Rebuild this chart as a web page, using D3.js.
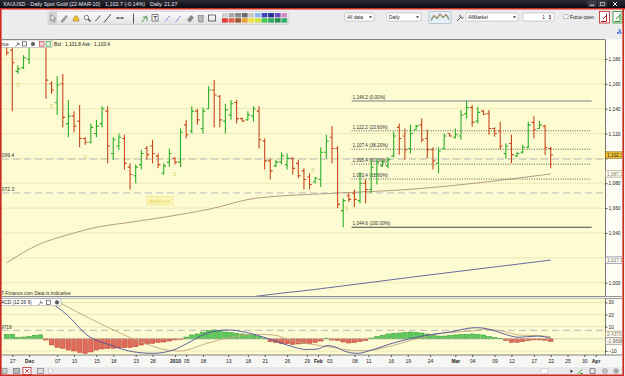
<!DOCTYPE html>
<html>
<head>
<meta charset="utf-8">
<script src="https://cdn.jsdelivr.net/npm/d3@7"></script>
<style>
body { margin: 0; background: #ececec; }
svg { display: block; font-family: "Liberation Sans", Arial, sans-serif; }
</style>
</head>
<body>
<div id="chart"></div>
<script>
// ---- data (bar index 0 = 26 Nov 2009, 97 = last bar) ----
var opens  = [1190,1187,1170,1173,1180,1198,1208,1215,1160,1145,1160,1128,1134,1130,1116,1113,1120,1128,1138,1104,
              1110,1116,1093,1086,1095,1108,1110,1102,1088,1097,1100,1097,1127,1122,1138,1124,1140,1155,1150,1130,
              1135,1145,1132,1131,1134,1138,1114,1098,1094,1097,1095,1100,1096,1090,1085,1081,1083,1105,1117,1108,
              1058,1070,1072,1066,1080,1075,1087,1094,1094,1102,1125,1118,1108,1123,1127,1116,1107,1096,1108,1120,
              1117,1118,1136,1141,1130,1138,1136,1124,1122,1104,1112,1102,1105,1109,1129,1124,1126,1108];
var highs  = [1193,1190,1175,1183,1193,1212,1227,1226,1162,1166,1168,1147,1138,1143,1117,1128,1131,1142,1142,1117,
              1120,1119,1096,1095,1107,1110,1115,1104,1096,1108,1101,1124,1131,1142,1140,1141,1158,1163,1151,1144,
              1147,1147,1133,1138,1142,1142,1116,1100,1099,1105,1104,1101,1099,1092,1088,1085,1109,1119,1126,1110,
              1068,1072,1075,1089,1083,1099,1100,1099,1101,1121.5,1128,1124,1127,1127,1132,1123,1109,1109,1120,1120,
              1124,1139,1146.2,1143,1141.6,1139,1139,1125,1129.5,1112,1119,1105.4,1111,1129.5,1134,1130,1127,1109.4];
var lows   = [1183,1138,1168,1172,1176,1196,1203,1148,1152,1135,1125,1117,1121,1109,1111,1112,1117,1125,1096,1099,
              1107,1091,1075,1080,1091,1099,1096,1092,1087,1093,1095,1093,1116,1120,1127,1120,1140,1125,1125,1120,
              1131,1128,1129.5,1131,1129.5,1108,1091,1083,1093,1095,1091,1087,1084,1075,1075,1080,1077,1100,1096,1060,
              1044.6,1065,1061,1064,1064,1072,1079,1093,1092,1101,1103,1099,1104,1123,1113,1100,1091,1088,1107,1117.5,
              1116,1115,1132,1125.5,1128,1135,1119,1117.5,1107,1100,1096,1101.4,1104,1108,1116,1124,1102.7,1092];
var closes = [1185,1177,1172,1181,1191,1208,1215,1163,1155,1159,1133,1134,1126,1116,1113,1125,1126,1140,1110,1115,
              1117,1096,1087,1093,1104,1103,1104,1095,1094,1104,1097,1121,1119,1138,1131,1138,1155,1151,1131,1139,
              1144,1132,1130,1135,1140,1115,1098,1090,1097,1102,1100,1092,1086,1083,1079,1084,1105,1114,1108,1063,
              1066,1067,1067,1080,1075,1093,1097,1097,1099,1118,1116,1107,1120,1126,1115,1107,1098,1106,1118,1118,
              1119,1135,1141,1129,1137,1135.5,1124,1120,1110,1110,1103,1104,1109,1127,1123,1127,1109,1102.7];

// moving averages, read at a few bar indices [index, price]
var maTan  = [[0,1016],[5.9,1031.1],[10.8,1038.4],[16.6,1045.1],[21.5,1048.3],[28.6,1053.1],[36.3,1059.3],
              [44.3,1067.9],[58.2,1071.9],[71.9,1075.1],[97,1087.5]];
var maBlue = [[40,986],[44.8,989.3],[54.1,994.1],[71.9,1004.3],[97,1018.2]];

// MACD (12 26 9)
var macdHist = [3.5,3.8,1.2,1.5,2.0,3.0,3.3,-1.0,-5.0,-7.0,-7.8,-9.2,-10.0,-11.2,-11.9,-10.8,-9.2,-8.3,-7.8,-7.8,
                -7.5,-7.3,-7.1,-6.5,-5.1,-4.2,-3.7,-3.0,-2.6,-1.8,-0.9,-0.4,1.5,3.2,4.0,5.6,6.9,7.3,6.5,5.6,
                5.2,4.6,4.0,3.6,3.2,1.9,0.3,-2.3,-3.0,-3.7,-4.0,-4.5,-4.2,-3.7,-4.0,-3.0,-1.8,0.6,-1.0,-1.4,
                -2.6,-3.4,-3.0,-2.2,-1.4,0.7,1.8,2.8,4.0,4.6,4.8,5.2,5.6,5.4,4.8,4.0,2.9,2.3,2.3,2.8,
                3.2,3.6,3.7,4.0,3.6,3.2,1.9,1.1,0.3,-1.4,-2.8,-2.8,-2.2,-1.4,-0.9,-0.9,-1.2,-2.2];
var macdLine = [[0,44],[3,40],[6.5,33.3],[10.8,19.6],[14.3,3.2],[18.4,-5],[22.5,-10.6],[26.1,-11.9],[29.7,-9.2],
                [32.2,-3.7],[35.7,4.6],[39.3,7.3],[43.9,4],[46.4,0.5],[50,-5.1],[53.5,-8.8],[55.3,-8.5],[57.3,-5.5],
                [58.5,-6.5],[60.3,-10.2],[62.6,-11.9],[65.1,-9.2],[68.7,-3.7],[72.3,0.5],[75.8,3.7],[79.4,5.9],
                [82.3,8.7],[84,9.2],[86.5,7.3],[88.9,3.7],[91.2,1.3],[94.7,2.3],[97,0.5]];
var signalLine = [[0,46],[5,38],[9,30.6],[13.6,19.6],[18.4,8.7],[23.8,-2.3],[28.6,-9.2],[30.9,-10],[35.7,-3.7],
                  [40.4,1.8],[45.2,3.7],[47.5,3.2],[51.1,-1.8],[55.3,-5.1],[59,-7.8],[60.9,-9.2],[63.9,-9.8],
                  [68,-6.5],[72.3,-0.9],[75.8,3.2],[79.4,5.4],[83,6.5],[85.3,7.9],[88.9,5.9],[91.2,3.2],
                  [94.7,2.6],[97,1.8]];
var macdLevel = 6.9719;

// Fibonacci retracement
var fibLevels = [1146.2, 1122.2, 1107.4, 1095.4, 1083.4, 1044.6];
var fibLabels = ["1,146.2 (0.00%)","1,122.2 (23.60%)","1,107.4 (38.20%)","1,095.4 (50.00%)","1,083.4 (61.80%)","1,044.6 (100.00%)"];
var fibFrom = 61.5, fibTo = 104.3;

// horizontal dashed levels
var levels = [1099.4, 1072.3];
var levelLabels = ["1,099.4", "1,072.3"];

// small wave marks "5"
var markIdx   = [2, 8, 14, 30, 54.6, 60.6];
var markPrice = [1159, 1142.4, 1101.4, 1087.4, 1090.7, 1059.9];

// date axis
var tickIdx = [1,4,9,12,16,19,23,26,30,32,35,39.5,43,46,50,53.5,55.5,57.5,62,64.5,68.5,71.5,75.5,80,83,87,90,94,97,100,103,105];
var tickLabels = ["27","Dec","07","10","15","18","23","28","2010","05","08","13","18","21","26","29","Feb","03",
                  "08","11","16","19","24","Mar","04","09","12","17","22","25","30","Apr"];
var boldLabels = ["Dec","2010","Feb","Mar","Apr"];

var priceTicks = [1000,1020,1040,1060,1080,1100,1120,1140,1160,1180];
var hiddenTicks = [1020,1100];   // covered by the value boxes
var macdTicks = [-10,10,20,30];

// ---- layout ----
var W = 625, H = 376;
var L = 2, R = 605, mainT = 39.5, mainB = 296, macdT = 298.5, macdB = 355;

var x  = d3.scaleLinear().domain([0, 97]).range([6.7, 550.7]);
var y  = d3.scaleLinear().domain([1000, 1180]).range([282.7, 58.96]);
var ym = d3.scaleLinear().domain([-10, 30]).range([351, 302.4]);

var svg = d3.select("#chart").append("svg").attr("width", W).attr("height", H);
var defs = svg.append("defs");

var tg = defs.append("linearGradient").attr("id", "tbar").attr("x1", 0).attr("x2", 0).attr("y1", 0).attr("y2", 1);
tg.append("stop").attr("offset", 0).attr("stop-color", "#2a2a36");
tg.append("stop").attr("offset", 1).attr("stop-color", "#0a0a10");
var bg = defs.append("linearGradient").attr("id", "tbox").attr("x1", 0).attr("x2", 0).attr("y1", 0).attr("y2", 1);
bg.append("stop").attr("offset", 0).attr("stop-color", "#fbfbfb");
bg.append("stop").attr("offset", 1).attr("stop-color", "#e2e2e2");

defs.append("clipPath").attr("id", "cMain").append("rect")
  .attr("x", L).attr("y", mainT).attr("width", R - L).attr("height", mainB - mainT);
defs.append("clipPath").attr("id", "cMacd").append("rect")
  .attr("x", L).attr("y", macdT).attr("width", R - L).attr("height", macdB - macdT);
defs.append("clipPath").attr("id", "cWin").append("rect")
  .attr("x", 0).attr("y", 0).attr("width", 622).attr("height", H);

svg.append("rect").attr("width", W).attr("height", H).attr("fill", "#ececec");

// title bar
svg.append("rect").attr("width", W).attr("height", 8.5).attr("fill", "url(#tbar)");
var tt = svg.append("g").attr("fill", "#e8e8f0").attr("font-size", 5.4);
tt.append("text").attr("x", 3).attr("y", 6.3).text("XAUUSD - Daily Spot Gold (22-MAR-10)");
tt.append("text").attr("x", 105).attr("y", 6.3).text("1,102.7 (-0.14%)");
tt.append("text").attr("x", 150).attr("y", 6.3).text("Daily");
tt.append("text").attr("x", 164).attr("y", 6.3).text("21:27");
// window buttons
[588, 598.5].forEach(function(bx) {
  svg.append("rect").attr("x", bx).attr("y", 1).attr("width", 8).attr("height", 5.5).attr("fill", "#3a3a48").attr("stroke", "#555").attr("stroke-width", 0.5);
});
svg.append("path").attr("d", "M590,5.2H594").attr("stroke", "#ddd").attr("stroke-width", 1);
svg.append("rect").attr("x", 600.5).attr("y", 2.3).attr("width", 4).attr("height", 3).attr("fill", "none").attr("stroke", "#ddd").attr("stroke-width", 0.6);
svg.append("path").attr("d", "M613,2L617,6M617,2L613,6").attr("stroke", "#f0f0f0").attr("stroke-width", 1);

// ---- toolbar ----
var tb = svg.append("g");
tb.append("rect").attr("x", 48).attr("y", 11.5).attr("width", 241).attr("height", 13).attr("rx", 1.5)
  .attr("fill", "url(#tbox)").attr("stroke", "#c6c6c6").attr("stroke-width", 0.6);
tb.append("rect").attr("x", 48.5).attr("y", 12).attr("width", 8.5).attr("height", 12).attr("fill", "#d4d4d4");
tb.append("path").attr("d", "M51,14.5L51,21L52.6,19.4L54,22L55,21.4L53.7,18.9L55.6,18.7Z").attr("fill", "#fff").attr("stroke", "#333").attr("stroke-width", 0.5);
tb.append("path").attr("d", "M61,21.5L66,15.5L67.3,16.7L62.3,22.5Z").attr("fill", "#aaa").attr("stroke", "#555").attr("stroke-width", 0.5);
tb.append("path").attr("d", "M73,21L74,17.5Q76,14 78,17.5L79,21Z").attr("fill", "#f2c12e").attr("stroke", "#8a6a10").attr("stroke-width", 0.5);
tb.append("circle").attr("cx", 86.5).attr("cy", 17.5).attr("r", 2.2).attr("fill", "#fff").attr("stroke", "#444").attr("stroke-width", 0.7);
tb.append("path").attr("d", "M88,19L90.5,21.5").attr("stroke", "#444").attr("stroke-width", 1.2);
tb.append("path").attr("d", "M95.5,21L100.5,15.5").attr("stroke", "#333").attr("stroke-width", 0.9);
tb.append("path").attr("d", "M104,22.5L111,14").attr("stroke", "#333").attr("stroke-width", 0.9);
tb.append("path").attr("d", "M116,18H124M118,17V19M122,17V19").attr("stroke", "#333").attr("stroke-width", 0.8);
tb.append("path").attr("d", "M133.5,13.5V23.5").attr("stroke", "#333").attr("stroke-width", 0.8);
tb.append("path").attr("d", "M142,22L147,15.5M143,17H147V21").attr("stroke", "#2a8a2a").attr("stroke-width", 0.8).attr("fill", "none");
tb.append("rect").attr("x", 152).attr("y", 14.5).attr("width", 6).attr("height", 6.5).attr("fill", "#fff").attr("stroke", "#333").attr("stroke-width", 0.6);
tb.append("text").attr("x", 153.4).attr("y", 20).attr("font-size", 5.5).attr("font-weight", "bold").attr("fill", "#333").text("T");
tb.append("path").attr("d", "M165,21.5L170,15.5").attr("stroke", "#3a4ac8").attr("stroke-width", 0.9).attr("stroke-dasharray", "1.2,0.8");
tb.append("path").attr("d", "M176,21.5L181,15.5").attr("stroke", "#3a4ac8").attr("stroke-width", 0.9).attr("stroke-dasharray", "1.2,0.8");
tb.append("path").attr("d", "M187.5,20L191,15.5L193.5,17.5L190,22Z").attr("fill", "#888").attr("stroke", "#444").attr("stroke-width", 0.4);
tb.append("path").attr("d", "M198,15.5H203.5L202.8,22H198.7Z").attr("fill", "#bbb").attr("stroke", "#555").attr("stroke-width", 0.5);
tb.append("rect").attr("x", 208.5).attr("y", 15).attr("width", 7).attr("height", 6).attr("fill", "none").attr("stroke", "#333").attr("stroke-width", 0.7);
var palTop = ["#cfcfcf","#a9a9a9","#8a8a8a","#6a6a6a","#c9c9c9","#8fb6f0","#3e46b8","#2a2f96","#6a4cc2","#d08ac8"];
var palBot = ["#e03c3c","#e8604a","#9c5a32","#f0a030","#f4e040","#d0e83c","#48c848","#2fa860","#2a8a4a","#2cb070"];
palTop.forEach(function(c, i) {
  tb.append("rect").attr("x", 222 + i * 6.6).attr("y", 13).attr("width", 5.8).attr("height", 4.4).attr("fill", c);
});
palBot.forEach(function(c, i) {
  tb.append("rect").attr("x", 222 + i * 6.6).attr("y", 18.2).attr("width", 5.8).attr("height", 4.4).attr("fill", c);
});

function dropdown(x0, w, label) {
  tb.append("rect").attr("x", x0).attr("y", 13).attr("width", w).attr("height", 8).attr("rx", 1)
    .attr("fill", "#fff").attr("stroke", "#b4b4b4").attr("stroke-width", 0.6);
  tb.append("text").attr("x", x0 + 2).attr("y", 19).attr("font-size", 4.8).attr("fill", "#222").text(label);
  tb.append("path").attr("d", "M" + (x0 + w - 5) + ",16.2h3l-1.5,2z").attr("fill", "#333");
}
dropdown(345, 29, "All data");
dropdown(387, 34, "Daily");
dropdown(466, 52, "AllMarket");
tb.append("rect").attr("x", 429).attr("y", 11.5).attr("width", 22).attr("height", 12).attr("rx", 1)
  .attr("fill", "#e6eef8").attr("stroke", "#9ab").attr("stroke-width", 0.6);
tb.append("path").attr("d", "M431,21L434,16L437,19L440,14.5L443,18L446,15L449,20").attr("fill", "none").attr("stroke", "#3a9a3a").attr("stroke-width", 0.8);
tb.append("path").attr("d", "M431,19L434,15L437,18L440,13.5L443,17L446,14L449,18").attr("fill", "none").attr("stroke", "#d04030").attr("stroke-width", 0.6);
tb.append("path").attr("d", "M457,21L461.5,16.5M460.5,14.5A2,2 0 1 0 463.5,17.5").attr("fill", "none").attr("stroke", "#555").attr("stroke-width", 0.9);
tb.append("rect").attr("x", 523).attr("y", 13).attr("width", 31).attr("height", 8).attr("rx", 1)
  .attr("fill", "#fff").attr("stroke", "#b4b4b4").attr("stroke-width", 0.6);
tb.append("text").attr("x", 545).attr("y", 19).attr("font-size", 4.8).attr("text-anchor", "end").attr("fill", "#222").text("1");
tb.append("path").attr("d", "M548.5,16.5h3l-1.5,-1.8zM548.5,17.7h3l-1.5,1.8z").attr("fill", "#333");
tb.append("rect").attr("x", 564).attr("y", 14.8).attr("width", 4).attr("height", 4).attr("fill", "#fff").attr("stroke", "#888").attr("stroke-width", 0.5);
tb.append("text").attr("x", 570).attr("y", 18.8).attr("font-size", 4.8).attr("fill", "#222").text("Force open");
tb.append("rect").attr("x", 599.5).attr("y", 11.5).attr("width", 10).attr("height", 11.5).attr("fill", "#fff").attr("stroke", "#c02020").attr("stroke-width", 0.8);
tb.append("path").attr("d", "M601,21.5H606.5V13.5M603,19L606.5,15.5").attr("fill", "none").attr("stroke", "#c02020").attr("stroke-width", 1);
tb.append("rect").attr("x", 613).attr("y", 11.5).attr("width", 9).attr("height", 11.5).attr("fill", "#fff").attr("stroke", "#2a8a2a").attr("stroke-width", 0.8);
tb.append("path").attr("d", "M614.5,21.5H620V13.5M616,19L620,15").attr("fill", "none").attr("stroke", "#2a8a2a").attr("stroke-width", 1);
tb.append("path").attr("d", "M617,33L621,30.5M621,30.5L618.5,29.5M617,33H622").attr("fill", "none").attr("stroke", "#2a5ad0").attr("stroke-width", 1);

// ---- main price panel ----
svg.append("rect").attr("x", L).attr("y", mainT).attr("width", R - L).attr("height", mainB - mainT).attr("fill", "#fcfbd1");
svg.append("rect").attr("x", R).attr("y", mainT).attr("width", 17).attr("height", macdB - mainT).attr("fill", "#fdfdf6");
svg.append("path").attr("d", "M" + L + "," + mainT + "H" + R).attr("stroke", "#666").attr("stroke-width", 0.8);

var gm = svg.append("g").attr("clip-path", "url(#cMain)");

gm.selectAll("line.grid").data(priceTicks).enter().append("line")
  .attr("x1", L).attr("x2", R).attr("y1", function(d) { return y(d); }).attr("y2", function(d) { return y(d); })
  .attr("stroke", "#ece8b6").attr("stroke-width", 1);

gm.selectAll("line.lvl").data(levels).enter().append("line")
  .attr("x1", L).attr("x2", R).attr("y1", function(d) { return y(d); }).attr("y2", function(d) { return y(d); })
  .attr("stroke", "#c9c9c2").attr("stroke-width", 1.2).attr("stroke-dasharray", "7,4");
gm.selectAll("text.lvl").data(levels).enter().append("text")
  .attr("x", -2.5).attr("y", function(d) { return y(d) - 1.8; })
  .attr("font-size", 5).attr("fill", "#333").text(function(d, i) { return levelLabels[i]; });

// moving averages
var maLine = d3.line().x(function(d) { return x(d[0]); }).y(function(d) { return y(d[1]); }).curve(d3.curveMonotoneX);
gm.append("path").attr("d", maLine(maTan)).attr("fill", "none").attr("stroke", "#b39e82").attr("stroke-width", 1);
gm.append("path").attr("d", maLine(maBlue)).attr("fill", "none").attr("stroke", "#6a6c9e").attr("stroke-width", 1);

// fibonacci
gm.selectAll("line.fib").data(fibLevels).enter().append("line")
  .attr("x1", x(fibFrom)).attr("x2", x(fibTo))
  .attr("y1", function(d) { return y(d); }).attr("y2", function(d) { return y(d); })
  .attr("stroke", function(d, i) { return i == 0 ? "#aaa9a0" : (i == fibLevels.length - 1 ? "#4a4a4a" : "#333"); })
  .attr("stroke-width", function(d, i) { return i == 0 ? 1.6 : (i == fibLevels.length - 1 ? 1 : 0.8); })
  .attr("stroke-dasharray", function(d, i) { return (i == 0 || i == fibLevels.length - 1) ? null : "1,1.4"; });
gm.selectAll("text.fib").data(fibLevels).enter().append("text")
  .attr("x", x(fibFrom) + 1).attr("y", function(d) { return y(d) - 1.8; })
  .attr("font-size", 4.6).attr("fill", "#333").text(function(d, i) { return fibLabels[i]; });

// wave marks
gm.selectAll("text.mark").data(markIdx).enter().append("text")
  .attr("x", function(d) { return x(d); }).attr("y", function(d, i) { return y(markPrice[i]) + 2; })
  .attr("font-size", 5).attr("text-anchor", "middle").attr("fill", "#e2c76a").text("5");

// note box
gm.append("rect").attr("x", 147).attr("y", 196.5).attr("width", 26).attr("height", 8.5)
  .attr("fill", "#fbf7b8").attr("stroke", "#f0e27a").attr("stroke-width", 0.6);
gm.append("text").attr("x", 160).attr("y", 202.6).attr("font-size", 4.5).attr("text-anchor", "middle").attr("fill", "#e3cf55").text("double pin");

// OHLC bars
var bars = opens.map(function(o, i) { return { i: i, o: o, h: highs[i], l: lows[i], c: closes[i] }; });
gm.selectAll("path.bar").data(bars).enter().append("path")
  .attr("d", function(d) {
    var cx = x(d.i);
    return "M" + cx + "," + y(d.h) + "V" + y(d.l) +
           "M" + (cx - 2.3) + "," + y(d.o) + "H" + cx +
           "M" + cx + "," + y(d.c) + "H" + (cx + 2.3);
  })
  .attr("fill", "none").attr("stroke-width", 1.1)
  .attr("stroke", function(d) { return d.c >= d.o ? "#2aae2a" : "#c7461d"; });

svg.append("text").attr("x", 0).attr("y", 295).attr("font-size", 4.8).attr("fill", "#333")
  .attr("clip-path", "url(#cMain)").text("IT-Finance.com  Data is indicative");

// price legend box
svg.append("rect").attr("x", -1).attr("y", 40).attr("width", 53).attr("height", 7.5).attr("fill", "#fff").attr("stroke", "#999").attr("stroke-width", 0.5);
svg.append("text").attr("x", 1).attr("y", 45.6).attr("font-size", 4.8).attr("fill", "#222").text("rice");
svg.append("path").attr("d", "M15.5,46.5L18.5,43.5M18,42A1.4,1.4 0 1 0 20,44").attr("fill", "none").attr("stroke", "#444").attr("stroke-width", 0.7);
svg.append("rect").attr("x", 22.5).attr("y", 41.8).attr("width", 4).attr("height", 4.2).attr("fill", "#fff").attr("stroke", "#333").attr("stroke-width", 0.6);
svg.append("circle").attr("cx", 33).attr("cy", 44).attr("r", 1.8).attr("fill", "#666").attr("stroke", "#333").attr("stroke-width", 0.5);
svg.append("rect").attr("x", 39.5).attr("y", 41.6).attr("width", 4.5).attr("height", 4.6).attr("fill", "#f4d0d0").attr("stroke", "#c03030").attr("stroke-width", 0.6);
svg.append("rect").attr("x", 46).attr("y", 41.6).attr("width", 4.5).attr("height", 4.6).attr("fill", "#d6f0d6").attr("stroke", "#2a9a2a").attr("stroke-width", 0.6);
svg.append("text").attr("x", 54).attr("y", 45.8).attr("font-size", 4.8).attr("fill", "#222").text("Bid : 1,101.8  Ask : 1,103.4");

// right price axis
var ay = d3.axisRight(y).tickValues(priceTicks).tickSize(2.5)
  .tickFormat(function(d) { return hiddenTicks.indexOf(d) >= 0 ? "" : d3.format(",")(d); });
var gAx = svg.append("g").attr("transform", "translate(" + R + ",0)").call(ay);
gAx.select(".domain").attr("stroke", "#555").attr("stroke-width", 0.8).attr("d", "M0.5," + mainT + "V" + mainB);
gAx.selectAll("line").attr("stroke", "#555");
gAx.selectAll("text").attr("x", 3.5).attr("font-size", 4.8).attr("fill", "#222").attr("font-family", "Liberation Sans, Arial, sans-serif");
var minor = d3.range(1010, 1195, 20);
svg.selectAll("line.minor").data(minor).enter().append("line")
  .attr("x1", R).attr("x2", R + 1.5).attr("y1", function(d) { return y(d); }).attr("y2", function(d) { return y(d); })
  .attr("stroke", "#777").attr("stroke-width", 0.6);

// value boxes on the price axis
function valueBox(v, label, fill, stroke, color, yScale) {
  var yy = yScale(v);
  var g = svg.append("g").attr("clip-path", "url(#cWin)");
  g.append("rect").attr("x", R + 0.5).attr("y", yy - 3.2).attr("width", 18).attr("height", 6.4)
    .attr("fill", fill).attr("stroke", stroke).attr("stroke-width", 0.7);
  g.append("text").attr("x", R + 2).attr("y", yy + 1.8).attr("font-size", 4.8).attr("fill", color).text(label);
}
valueBox(1102.7, "1,102.7", "#f3c535", "#8a6a12", "#222", y);
valueBox(1087.5, "1,087.3", "#fffef6", "#a8987a", "#8a7a5a", y);
valueBox(1018.2, "1,017.9", "#fffef6", "#7a7a9a", "#666", y);

// panel separator
svg.append("path").attr("d", "M" + L + ",296.5H" + (R + 17) + "M" + L + ",298.5H" + (R + 17)).attr("stroke", "#666").attr("stroke-width", 0.7);

// ---- MACD panel ----
svg.append("rect").attr("x", L).attr("y", macdT).attr("width", R - L).attr("height", macdB - macdT).attr("fill", "#fcfbd1");
var gd = svg.append("g").attr("clip-path", "url(#cMacd)");
gd.selectAll("line.mgrid").data([30, 20, 10, -10]).enter().append("line")
  .attr("x1", L).attr("x2", R).attr("y1", function(d) { return ym(d); }).attr("y2", function(d) { return ym(d); })
  .attr("stroke", "#ece8b6").attr("stroke-width", 1);
gd.append("line").attr("x1", L).attr("x2", R).attr("y1", ym(macdLevel)).attr("y2", ym(macdLevel))
  .attr("stroke", "#c6c6c0").attr("stroke-width", 1.1).attr("stroke-dasharray", "7,4");
gd.append("text").attr("x", -3).attr("y", ym(macdLevel) - 1.8).attr("font-size", 4.8).attr("fill", "#333").text(d3.format(".4f")(macdLevel));

gd.selectAll("rect.hist").data(macdHist).enter().append("rect")
  .attr("x", function(d, i) { return x(i) - 2.3; }).attr("width", 4.6)
  .attr("y", function(d) { return Math.min(ym(d), ym(0)); })
  .attr("height", function(d) { return Math.abs(ym(d) - ym(0)); })
  .attr("fill", function(d) { return d >= 0 ? "#5cc95c" : "#e26a5a"; })
  .attr("stroke", function(d) { return d >= 0 ? "#2f9a2f" : "#b5402e"; }).attr("stroke-width", 0.5);
gd.append("line").attr("x1", L).attr("x2", R).attr("y1", ym(0)).attr("y2", ym(0)).attr("stroke", "#b8b8a8").attr("stroke-width", 0.6);

var mLine = d3.line().x(function(d) { return x(d[0]); }).y(function(d) { return ym(d[1]); }).curve(d3.curveMonotoneX);
gd.append("path").attr("d", mLine(signalLine)).attr("fill", "none").attr("stroke", "#c3a77c").attr("stroke-width", 0.9);
gd.append("path").attr("d", mLine(macdLine)).attr("fill", "none").attr("stroke", "#4f4f98").attr("stroke-width", 0.9);

svg.append("rect").attr("x", -1).attr("y", 298.8).attr("width", 62).attr("height", 7).attr("fill", "#fff").attr("stroke", "#999").attr("stroke-width", 0.5);
svg.append("text").attr("x", 1).attr("y", 304.2).attr("font-size", 4.8).attr("fill", "#222").text("ACD (12 26 9)");
svg.append("path").attr("d", "M38.5,305L41.5,302M41,300.5A1.4,1.4 0 1 0 43,302.5").attr("fill", "none").attr("stroke", "#444").attr("stroke-width", 0.7);
svg.append("rect").attr("x", 46.5).attr("y", 300.2).attr("width", 4).attr("height", 4.2).attr("fill", "#fff").attr("stroke", "#333").attr("stroke-width", 0.6);
svg.append("circle").attr("cx", 57).attr("cy", 302.4).attr("r", 1.8).attr("fill", "#666").attr("stroke", "#333").attr("stroke-width", 0.5);

var am = d3.axisRight(ym).tickValues(macdTicks).tickSize(2.5).tickFormat(d3.format("d"));
var gAm = svg.append("g").attr("transform", "translate(" + R + ",0)").call(am);
gAm.select(".domain").attr("stroke", "#555").attr("stroke-width", 0.8).attr("d", "M0.5," + macdT + "V" + macdB);
gAm.selectAll("line").attr("stroke", "#555");
gAm.selectAll("text").attr("x", 3.5).attr("font-size", 4.8).attr("fill", "#222").attr("font-family", "Liberation Sans, Arial, sans-serif");
valueBox(3.7, "2.4370", "#fffef6", "#b09a72", "#8a7a5a", ym);
valueBox(-1.8, "-1.9668", "#fffef6", "#888", "#555", ym);

// ---- date axis ----
svg.append("rect").attr("x", L).attr("y", macdB).attr("width", R - L + 17).attr("height", 12).attr("fill", "#f6f6f4");
svg.append("path").attr("d", "M" + L + "," + macdB + "H" + (R + 17)).attr("stroke", "#666").attr("stroke-width", 0.8);
var ax = d3.axisBottom(x).tickValues(tickIdx).tickSize(2).tickFormat(function(d, i) { return tickLabels[i]; });
var gX = svg.append("g").attr("transform", "translate(0," + macdB + ")").call(ax);
gX.select(".domain").remove();
gX.selectAll("line").attr("stroke", "#555");
gX.selectAll("text").attr("y", 4).attr("dy", "0.71em").attr("font-size", 5).attr("fill", "#222")
  .attr("font-family", "Liberation Sans, Arial, sans-serif")
  .attr("font-weight", function(d, i) { return boldLabels.indexOf(tickLabels[i]) >= 0 ? "bold" : "normal"; });

// bottom toolbar
svg.append("rect").attr("x", 0).attr("y", 367).attr("width", W).attr("height", 9).attr("fill", "#e9e9e9");
svg.append("rect").attr("x", 2).attr("y", 368.5).attr("width", 5).attr("height", 5).attr("fill", "#ccc").attr("stroke", "#666").attr("stroke-width", 0.5);
svg.append("rect").attr("x", 13.5).attr("y", 368.5).attr("width", 6).attr("height", 5).attr("fill", "#bbb").attr("stroke", "#555").attr("stroke-width", 0.5);
svg.append("rect").attr("x", 23).attr("y", 367.5).attr("width", 8).attr("height", 7).attr("fill", "#fff").attr("stroke", "#c03030").attr("stroke-width", 0.8);
svg.append("path").attr("d", "M25,369L29,373M29,369L25,373").attr("stroke", "#c03030").attr("stroke-width", 0.8);
svg.append("rect").attr("x", 37.5).attr("y", 368.5).attr("width", 6).attr("height", 5).attr("fill", "#ddd").attr("stroke", "#555").attr("stroke-width", 0.5);
svg.append("rect").attr("x", 48.5).attr("y", 369).attr("width", 4).attr("height", 4).attr("fill", "#fff").attr("stroke", "#999").attr("stroke-width", 0.4);
svg.append("rect").attr("x", 541).attr("y", 369).attr("width", 7).attr("height", 4.5).attr("fill", "#fff").attr("stroke", "#aaa").attr("stroke-width", 0.4);
svg.append("path").attr("d", "M570.5,369.5L573,371.2L570.5,373Z").attr("fill", "#333");
svg.append("path").attr("d", "M578,373.5L582,369.5M580,373.5H583").attr("stroke", "#2a8a2a").attr("stroke-width", 0.9);
svg.append("rect").attr("x", 590).attr("y", 368.8).attr("width", 5).attr("height", 4.5).attr("fill", "none").attr("stroke", "#444").attr("stroke-width", 0.6);
svg.append("circle").attr("cx", 605).attr("cy", 371).attr("r", 2.2).attr("fill", "#fff").attr("stroke", "#444").attr("stroke-width", 0.6);
svg.append("path").attr("d", "M603.8,371H606.2").attr("stroke", "#333").attr("stroke-width", 0.6);
svg.append("circle").attr("cx", 616).attr("cy", 371).attr("r", 2.2).attr("fill", "#fff").attr("stroke", "#444").attr("stroke-width", 0.6);
svg.append("path").attr("d", "M614.8,371H617.2M616,369.8V372.2").attr("stroke", "#333").attr("stroke-width", 0.6);

// red window frame
svg.append("path").attr("d", "M0.8,8.5V375.2H623.2V8.5M0,8.8H625").attr("fill", "none").attr("stroke", "#cf2a20").attr("stroke-width", 1.6);
</script>
</body>
</html>
